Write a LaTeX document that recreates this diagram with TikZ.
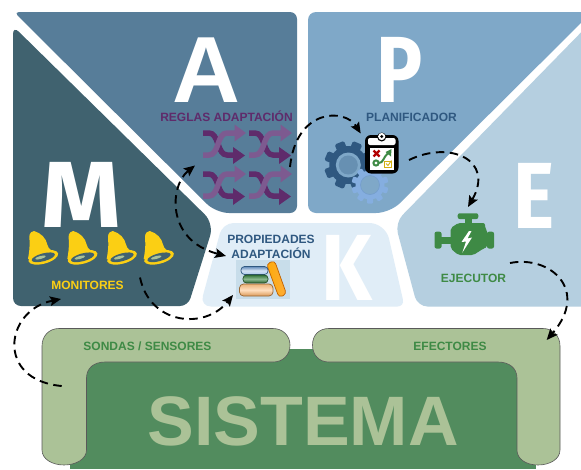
\documentclass[tikz,border=0pt]{standalone}
\usepackage{graphicx}
\usepackage{fontspec}
\setmainfont{Liberation Sans}
\newfontfamily\bigfont{Fira Sans}
\usetikzlibrary{arrows.meta,calc}
\definecolor{cM}{HTML}{40626F}
\definecolor{cA}{HTML}{577D99}
\definecolor{cP}{HTML}{7FA8C8}
\definecolor{cE}{HTML}{B5CFE0}
\definecolor{cK}{HTML}{E0EDF7}
\definecolor{cSys}{HTML}{528C5E}
\definecolor{cLeaf}{HTML}{ABC297}
\definecolor{cPurple}{HTML}{5F2B6B}
\definecolor{cLilac}{HTML}{7D5A90}
\definecolor{cNavy}{HTML}{2F5880}
\definecolor{cYellow}{HTML}{FBCF14}
\definecolor{cGreen}{HTML}{3E8A45}
\definecolor{cSky}{HTML}{85AEE0}
\tikzset{
  x=1pt,y=-1pt,
  flow/.style={line width=1.9pt,dash pattern=on 8.5pt off 5.5pt,-{Stealth[length=11pt,width=9.5pt,inset=2pt]}},
  flowboth/.style={line width=1.9pt,dash pattern=on 8.5pt off 5.5pt,{Stealth[length=11pt,width=9.5pt,inset=2pt]}-{Stealth[length=11pt,width=9.5pt,inset=2pt]}},
  letter/.style={text=white,inner sep=0pt,anchor=base,font=\fontsize{94}{94}\selectfont\bfseries},
  label/.style={inner sep=0pt,anchor=base,font=\fontsize{12}{14}\selectfont\bfseries},
  leaf/.style={fill=cLeaf,draw=black!65,line width=.6pt},
  bell/.pic={
    \fill[cYellow] (14,6) .. controls (9,7) and (9,11) .. (9.5,15) .. controls (10,22) and (9,28) .. (8,34)
      -- (30,35) -- (37,27) .. controls (31,26) and (28.5,24) .. (27.5,20)
      .. controls (26,13) and (21,8) .. (14,6) -- cycle;
    \fill[cYellow,rotate around={15:(23.3,32.3)}] (23.3,32.3) ellipse [x radius=15.3,y radius=6.4];
    \fill[cM,rotate around={15:(23.3,32.3)}] (23.3,32.3) ellipse [x radius=12,y radius=3.9];
    \fill[cLeaf,rotate around={15:(20.5,32.5)}] (20.5,32.5) ellipse [x radius=5.5,y radius=1.5];
  },
  shuffle/.pic={
    \draw[cPurple,line width=5.5pt] (0,-11) -- (6,-11) .. controls (16,-11) and (14,11) .. (24,11) -- (32,11);
    \fill[cPurple] (30,3) -- (42,11.5) -- (30,20) -- cycle;
    \draw[cLilac,line width=5.5pt] (0,11) -- (6,11) .. controls (16,11) and (14,-11) .. (24,-11) -- (33,-11);
    \fill[cLilac] (31.5,-19.5) -- (43,-11) -- (31.5,-2.5) -- cycle;
  }
}
\begin{document}
\begin{tikzpicture}
\useasboundingbox (0,0) rectangle (581,469);
\fill[white] (0,0) rectangle (581,469);
% quadrants
\fill[cA] [rounded corners=5pt] (14,12) [rounded corners=7pt] -- (297,12) -- (297,213) [rounded corners=13pt] -- (216,213) [rounded corners=5pt] -- cycle;
\fill[cP] [rounded corners=8pt] (308,12) [rounded corners=0pt] -- (592,12) [rounded corners=14pt] -- (390,213) [rounded corners=8pt] -- (308,213) -- cycle;
\fill[cE] [rounded corners=0pt] (600,13) [rounded corners=11pt] -- (395,222.7) [rounded corners=10pt] -- (417.5,306.5) [rounded corners=0pt] -- (600,306.5) -- cycle;
\fill[cM] [rounded corners=6pt] (13,26) [rounded corners=13pt] -- (214,223.5) [rounded corners=8pt] -- (188,306) -- (13,306) -- cycle;
\fill[cK] [rounded corners=16pt] (222.7,223) -- (385.4,223) [rounded corners=7pt] -- (404.5,306.5) [rounded corners=11pt] -- (200,306.5) -- cycle;
% system
\fill[cSys] (70,349) rectangle (536,469);
\draw[leaf] (59,328.5) -- (273,328.5) .. controls (283,328.5) and (290,336) .. (290,345)
  .. controls (290,355) and (283,362) .. (273,362) -- (105,362)
  .. controls (94,362) and (86.5,368) .. (86.5,378) -- (86.5,450) .. controls (86.5,459) and (76,465) .. (64,465)
  .. controls (52,465) and (42,459) .. (42,450) -- (42,346) .. controls (42,336) and (49,328.5) .. (59,328.5) -- cycle;
\draw[leaf] (329,328.5) -- (543,328.5) .. controls (553,328.5) and (560,336) .. (560,346) -- (560,450)
  .. controls (560,459) and (550,465) .. (538,465) .. controls (526,465) and (517,459) .. (517,450)
  -- (517,378) .. controls (517,368) and (509,362) .. (498,362) -- (329,362)
  .. controls (319,362) and (312.5,355) .. (312.5,345) .. controls (312.5,335) and (319,328.5) .. (329,328.5) -- cycle;
% big letters
\node[letter] (la) at (206.5,102) {A};
\node[letter] (lm) at (81.5,227) {\bigfont\scalebox{1.08}[1]{M}};
\node[letter] (lp) at (399.5,102) {\bigfont\scalebox{.82}[1]{P}};
\node[letter] (le) at (534.5,228) {\bigfont\scalebox{.83}[1]{E}};
\node[letter] (lk) at (347,300) {\bigfont\scalebox{.85}[1]{K}};
% labels
\node[label,text=cPurple] (reglas) at (226.5,121) {REGLAS ADAPTACIÓN};
\node[label,text=cNavy] (plan) at (411.5,121) {PLANIFICADOR};
\node[label,text=cYellow] (moni) at (87.5,289) {MONITORES};
\node[label,text=cNavy] (prop1) at (271,243) {PROPIEDADES};
\node[label,text=cNavy] (prop2) at (271,258.5) {ADAPTACIÓN};
\node[label,text=cGreen] (ejec) at (473.5,282) {EJECUTOR};
\node[label,text=cGreen] (sondas) at (147.5,350.5) {SONDAS / SENSORES};
\node[label,text=cGreen] (efect) at (450,350.5) {EFECTORES};
\node[inner sep=0pt,anchor=base,text=cLeaf,font=\fontsize{70}{70}\selectfont\bfseries] (sis) at (303,445.5) {SISTEMA};
% shuffle icons
\foreach \px/\py in {203/144,249/144,203/185,249/185}
  \pic at (\px,\py) {shuffle};
% bells
\foreach \px in {20,59.3,98.7,135.7}
  \pic at (\px,225) {bell};
% large gear
\begin{scope}[shift={(348.3,165)}]
  \foreach \a in {0,45,...,315}
    \fill[cNavy,rounded corners=1.5pt,rotate=\a+22] (-5,-24) rectangle (5,-14);
  \fill[cNavy] (0,0) circle (19);
  \fill[cP] (0,0) circle (12.5);
  \fill[cP!70!cNavy] (0,0) circle (9.5);
\end{scope}
% small gear
\begin{scope}[shift={(370,185)}]
  \foreach \a in {0,36,...,324}
    \fill[cSky,rounded corners=1pt,rotate=\a] (-3,-18.5) rectangle (3,-11);
  \fill[cSky] (0,0) circle (14.5);
  \draw[cSky!80!cNavy,line width=.6pt,fill=cP] (0,0) circle (9.5);
\end{scope}
% clipboard
\fill[black,rounded corners=6pt] (365,135) rectangle (398.5,173.5);
\fill[white,rounded corners=2pt] (368,138) rectangle (395.5,145);
\fill[black] (381.7,137) circle (4.5);
\fill[white] (381.7,136.5) circle (3.6);
\fill[black] (381.7,136.5) circle (1.7);
\fill[white] (369.5,148) rectangle (394,169.5);
\draw[red!70!black,line width=2.2pt] (373.5,150.5) -- (379.5,156.5) (379.5,150.5) -- (373.5,156.5);
\draw[cGreen,line width=2pt] (376,163) circle (2.6) (378.5,163) .. controls (384,163) and (382,158) .. (389,152.5);
\fill[cGreen] (391.5,149) -- (391,156.5) -- (385.5,152) -- cycle;
\draw[cYellow!85!black,line width=.9pt] (384.5,161) rectangle (391,167);
\draw[cYellow!85!black,line width=.9pt] (386,163.5) -- (388,165.5) -- (391.5,160.5);
% engine
\fill[cGreen,rounded corners=2pt] (457.7,213.3) rectangle (478.3,219);
\fill[cGreen] (465,218) rectangle (471.7,224);
\fill[cGreen,rounded corners=2pt] (450.7,228) -- (458.3,223) -- (485,223) -- (485,228) -- (487.5,231.5) -- (487.5,247) -- (483.5,248.5) -- (473.5,255) -- (458.3,255) -- (450.7,248.5) -- cycle;
\fill[cGreen,rounded corners=2pt] (434.5,231.7) rectangle (441.5,248.5);
\fill[cGreen] (440,236.5) rectangle (452,243.5);
\fill[cGreen,rounded corners=2pt] (487,231.7) rectangle (494,248.5);
\fill[cGreen] (485,236.5) rectangle (489,243.5);
\fill[white] (469,231) -- (461.5,242) -- (466,241.5) -- (462.3,252.7) -- (472,237.5) -- (467.5,238.5) -- (471.5,231) -- cycle;
% books
\fill[cE!55!cK] (236,260) rectangle (290,299);
\draw[left color=orange!45!cYellow,right color=orange!70!cYellow!80!white,draw=orange!75!black,line width=.7pt,rounded corners=3.5pt] (266.5,264) -- (274.5,260.5) -- (286.5,294) -- (279,297.5) -- cycle;
\draw[top color=cSky!60!cNavy,bottom color=cSky!70!white,middle color=cSky!35!white,draw=cNavy,line width=.7pt,rounded corners=3.5pt] (241,266.5) rectangle (268,274.5);
\draw[top color=cGreen!85!black,bottom color=cGreen!70!black,middle color=cGreen!60!white,draw=cGreen!60!black,line width=.7pt,rounded corners=3.5pt] (243,275) rectangle (268,283);
\draw[top color=brown!50!orange!60!white,bottom color=brown!70!orange!80!white,middle color=orange!25!white,draw=brown!80!black,line width=.7pt,rounded corners=4pt] (239.5,284) rectangle (273,296);
% connector ends
\coordinate (aTop) at (195,165.5);
\coordinate (kLeft) at (226,256);
\coordinate (aIcon) at (290,167);
\coordinate (clip) at (360.7,133.5);
\coordinate (clipR) at (409,160);
\coordinate (engTop) at (468,207);
\coordinate (engR) at (510,263);
\coordinate (efe) at (546.7,340);
\coordinate (son) at (61.7,386);
\coordinate (monB) at (61,299);
\coordinate (monR) at (140,277.5);
\coordinate (book) at (233,295);
% connectors
\draw[flowboth] (aTop) .. controls (170,185) and (165,240) .. (kLeft);
\draw[flow] (aIcon) .. controls (296,108) and (345,108) .. (clip);
\draw[flow] (clipR) .. controls (450,140) and (495,160) .. (engTop);
\draw[flow] (engR) .. controls (550,255) and (590,290) .. (efe);
\draw[flow] (son) .. controls (-5,380) and (5,310) .. (monB);
\draw[flow] (monR) .. controls (150,325) and (205,330) .. (book);
\end{tikzpicture}
\end{document}
